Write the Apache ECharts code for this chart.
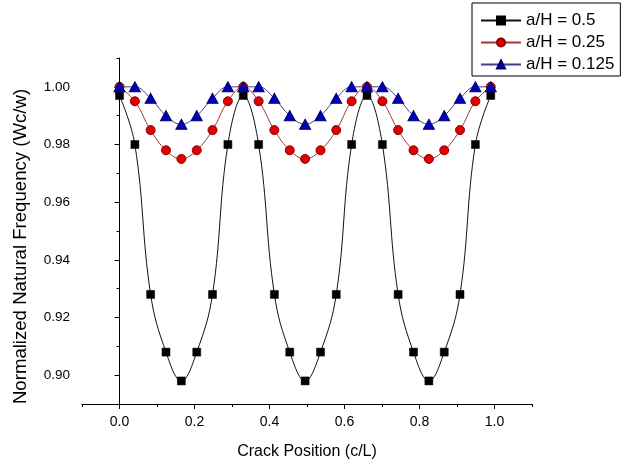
<!DOCTYPE html>
<html>
<head>
<meta charset="utf-8">
<script src="https://cdn.jsdelivr.net/npm/echarts@6/dist/echarts.min.js"></script>
<style>
  html, body { margin: 0; padding: 0; background: #fff; }
  #chart { width: 632px; height: 465px; }
</style>
</head>
<body>
<div id="chart"></div>
<script>
// crack position c/L
var crackPos = [0, 0.041, 0.083, 0.124, 0.165, 0.206, 0.248, 0.289, 0.33,
  0.371, 0.413, 0.454, 0.495, 0.536, 0.578, 0.619, 0.66,
  0.701, 0.743, 0.784, 0.825, 0.866, 0.908, 0.949, 0.99]

// normalized frequency Wc/w for each crack depth
var freqH05 = [0.997, 0.980, 0.928, 0.908, 0.898, 0.908, 0.928, 0.980, 0.997,
  0.980, 0.928, 0.908, 0.898, 0.908, 0.928, 0.980, 0.997,
  0.980, 0.928, 0.908, 0.898, 0.908, 0.928, 0.980, 0.997]
var freqH025 = [1.000, 0.995, 0.985, 0.978, 0.975, 0.978, 0.985, 0.995, 1.000,
  0.995, 0.985, 0.978, 0.975, 0.978, 0.985, 0.995, 1.000,
  0.995, 0.985, 0.978, 0.975, 0.978, 0.985, 0.995, 1.000]
var freqH0125 = [1.000, 1.000, 0.996, 0.990, 0.987, 0.990, 0.996, 1.000, 1.000,
  1.000, 0.996, 0.990, 0.987, 0.990, 0.996, 1.000, 1.000,
  1.000, 0.996, 0.990, 0.987, 0.990, 0.996, 1.000, 1.000]

var seriesNames = ['a/H = 0.5', 'a/H = 0.25', 'a/H = 0.125']

var xMajor = [0, 0.2, 0.4, 0.6, 0.8, 1.0]
var xMinor = [-0.1, 0.1, 0.3, 0.5, 0.7, 0.9, 1.1]
var yMajor = [0.90, 0.92, 0.94, 0.96, 0.98, 1.00]
var yMinor = [0.89, 0.91, 0.93, 0.95, 0.97, 0.99, 1.01]

function pairs(ys) {
  return crackPos.map(function (x, i) { return [x, ys[i]] })
}

var font = 'Liberation Sans, Arial, sans-serif'
var chart = echarts.init(document.getElementById('chart'))

var baseX = {
  type: 'value', min: -0.1, max: 1.1, position: 'bottom',
  splitLine: { show: false },
  axisLine: { lineStyle: { color: '#000', width: 1 } }
}
var baseY = {
  type: 'value', min: 0.89, max: 1.01, position: 'left',
  splitLine: { show: false },
  axisLine: { lineStyle: { color: '#000', width: 1 } }
}

chart.setOption({
  animation: false,
  backgroundColor: '#fff',
  textStyle: { fontFamily: font },
  grid: { left: 82, right: 100, top: 58, bottom: 60 },
  legend: {
    orient: 'vertical',
    left: 472, top: 3,
    padding: [9, 6, 3, 8],
    itemGap: 5,
    itemWidth: 40, itemHeight: 10,
    borderColor: '#000', borderWidth: 1,
    backgroundColor: '#fff',
    textStyle: { fontSize: 17, color: '#000', fontFamily: font },
    data: seriesNames
  },
  xAxis: [
    Object.assign({}, baseX, {
      name: 'Crack Position (c/L)',
      nameLocation: 'middle', nameGap: 40,
      nameTextStyle: { fontSize: 16, color: '#000', fontFamily: font },
      axisTick: { customValues: xMajor, length: 5, lineStyle: { color: '#000' } },
      axisLabel: {
        customValues: xMajor, margin: 11, fontSize: 14, color: '#000',
        formatter: function (v) { return v.toFixed(1) }
      }
    }),
    Object.assign({}, baseX, {
      axisLine: { show: false },
      axisTick: { customValues: xMinor, length: 3, lineStyle: { color: '#000' } },
      axisLabel: { show: false }
    })
  ],
  yAxis: [
    Object.assign({}, baseY, {
      name: 'Normalized Natural Frequency (Wc/w)',
      nameLocation: 'middle', nameGap: 52,
      nameTextStyle: { fontSize: 18.6, color: '#000', fontFamily: font, padding: [0, 31, 0, 0] },
      axisTick: { customValues: yMajor, length: 5, lineStyle: { color: '#000' } },
      axisLabel: {
        customValues: yMajor, margin: 12, fontSize: 13.5, color: '#000',
        formatter: function (v) { return v.toFixed(2) }
      }
    }),
    Object.assign({}, baseY, {
      axisLine: { show: false },
      axisTick: { customValues: yMinor, length: 3, lineStyle: { color: '#000' } },
      axisLabel: { show: false }
    })
  ],
  series: [
    {
      name: seriesNames[0], type: 'line', data: pairs(freqH05),
      smooth: 0.4, symbol: 'rect', symbolSize: 8,
      lineStyle: { color: '#111', width: 1 },
      itemStyle: { color: '#000', borderColor: '#000', borderWidth: 0.5 }
    },
    {
      name: seriesNames[1], type: 'line', data: pairs(freqH025),
      smooth: 0.4, symbol: 'circle', symbolSize: 9,
      lineStyle: { color: '#a03838', width: 1 },
      itemStyle: { color: '#e00000', borderColor: '#8a0000', borderWidth: 1 }
    },
    {
      name: seriesNames[2], type: 'line', data: pairs(freqH0125),
      smooth: 0.4, symbol: 'triangle', symbolSize: [11, 10],
      lineStyle: { color: '#40408c', width: 1 },
      itemStyle: { color: '#0000b4', borderColor: '#000070', borderWidth: 1 }
    }
  ]
})
</script>
</body>
</html>
